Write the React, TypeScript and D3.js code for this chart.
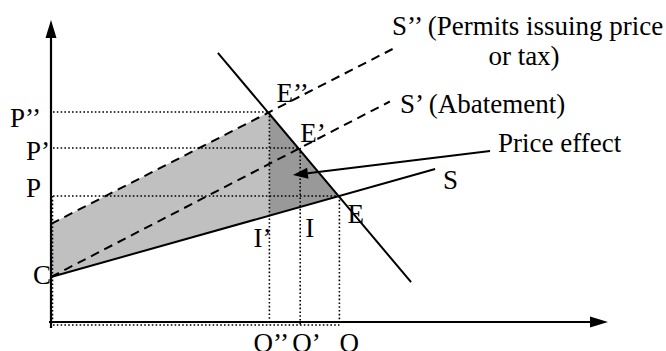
import React from "react";
import * as d3 from "d3";

// ---- data (quantity on x, price on y; arbitrary units) ----
const qLabels = ["Q’’", "Q’", "Q"];
const qValues = [39, 44.5, 51.5];
const pLabels = ["P’’", "P’", "P"];
const pValues = [70, 58, 42];
const cValue = 15;
const sTaxIntercept = 32.7;
const demandLine: [number, number][] = [[29.8, 89.7], [64.3, 13.3]];
const sLine: [number, number][] = [[0, 15], [68.6, 51]];
const sAbateLine: [number, number][] = [[0, 15], [60.5, 73.5]];
const sTaxLine: [number, number][] = [[0, 32.7], [61, 91]];
const priceEffectArrow: [number, number][] = [[78.4, 57], [43.2, 49]];

const W = 666, H = 351;
const FONT = "Liberation Serif, Times New Roman, serif";

export default function App() {
  const x = d3.scaleLinear().domain([0, 100]).range([51, 611]);
  const y = d3.scaleLinear().domain([0, 100]).range([322, 22]);
  const line = d3.line<[number, number]>().x(d => x(d[0])).y(d => y(d[1]));

  const sAt = (q: number) => {
    const [a, b] = sLine;
    return a[1] + (b[1] - a[1]) * (q - a[0]) / (b[0] - a[0]);
  };
  const [qE2, qE1, qE] = qValues;
  const [pE2, pE1, pE] = pValues;
  const iPrime = sAt(qE2);

  const lightPoly: [number, number][] = [[0, cValue], [0, sTaxIntercept], [qE2, pE2], [qE2, iPrime]];
  const darkPoly: [number, number][] = [[qE2, pE2], [qE, pE], [qE2, iPrime]];

  const x0 = x(0), y0 = y(0);
  const dot = { stroke: "#000", strokeWidth: 1.6, strokeDasharray: "1.6 2.2", fill: "none" };
  const dash = { stroke: "#000", strokeWidth: 2, strokeDasharray: "9 6", fill: "none" };
  const solid = { stroke: "#000", strokeWidth: 2, fill: "none" };

  // arrow geometry
  const ax1 = x(priceEffectArrow[0][0]), ay1 = y(priceEffectArrow[0][1]);
  const ax2 = x(priceEffectArrow[1][0]), ay2 = y(priceEffectArrow[1][1]);
  const ang = Math.atan2(ay2 - ay1, ax2 - ax1);
  const hl = 15, hw = 5.5;
  const bx = ax2 - hl * Math.cos(ang), by = ay2 - hl * Math.sin(ang);
  const head = `M${ax2},${ay2} L${bx + hw * Math.sin(ang)},${by - hw * Math.cos(ang)} L${bx - hw * Math.sin(ang)},${by + hw * Math.cos(ang)} Z`;

  const txt = { fontFamily: FONT, fontSize: 27, fill: "#000" };

  return (
    <svg width={W} height={H} style={{ position: "absolute", left: 0, top: 0, background: "#fff" }}>
      {/* shaded areas */}
      <path d={line(lightPoly) + "Z"} fill="#c0c0c0" />
      <path d={line(darkPoly) + "Z"} fill="#999999" />

      {/* dotted guides */}
      {pValues.map((p, i) => (
        <line key={"h" + i} x1={x0 + 2} x2={x(qValues[i])} y1={y(p)} y2={y(p)} style={dot} />
      ))}
      {qValues.map((q, i) => (
        <line key={"v" + i} x1={x(q)} x2={x(q)} y1={y(pValues[i])} y2={y0 + 3} style={dot} />
      ))}
      <line x1={x0 + 2} x2={x(qE)} y1={y0 + 3} y2={y0 + 3} style={dot} />
      <line x1={x0 + 1.5} x2={x0 + 1.5} y1={y(pE)} y2={y0 + 3} style={dot} />

      {/* curves */}
      <path d={line(sTaxLine)!} style={dash} />
      <path d={line(sAbateLine)!} style={dash} />
      <path d={line(sLine)!} style={solid} />
      <path d={line(demandLine)!} style={solid} />

      {/* axes */}
      <line x1={x0} x2={x0} y1={y0 + 6} y2={32} stroke="#000" strokeWidth={2.2} />
      <path d={`M${x0},20 L${x0 - 5.5},38 L${x0 + 5.5},38 Z`} fill="#000" />
      <line x1={x0 - 2} x2={596} y1={y0} y2={y0} stroke="#000" strokeWidth={2.2} />
      <path d={`M608,${y0} L590,${y0 - 5.5} L590,${y0 + 5.5} Z`} fill="#000" />

      {/* price effect arrow */}
      <line x1={ax1} y1={ay1} x2={bx} y2={by} stroke="#000" strokeWidth={2} />
      <path d={head} fill="#000" />

      {/* axis labels */}
      <text x={10} y={y(pE2) + 14.5} style={txt}>{pLabels[0]}</text>
      <text x={26} y={y(pE1) + 12} style={txt}>{pLabels[1]}</text>
      <text x={26} y={y(pE) + 1} style={txt}>{pLabels[2]}</text>
      <text x={33} y={y(cValue) + 6.5} style={txt}>C</text>
      <text x={x(qE2) - 16} y={352} style={txt}>{qLabels[0]}</text>
      <text x={x(qE1) - 8} y={352} style={txt}>{qLabels[1]}</text>
      <text x={x(qE)} y={352} style={txt}>{qLabels[2]}</text>

      {/* point labels */}
      <text x={x(qE2) + 7} y={y(pE2) - 10} style={txt}>E’’</text>
      <text x={x(qE1)} y={y(pE1) - 6} style={txt}>E’</text>
      <text x={x(qE) + 8} y={y(pE) + 27} style={txt}>E</text>
      <text x={x(qE2) - 16} y={247} style={txt}>I’</text>
      <text x={x(qE1) + 5} y={237} style={txt}>I</text>

      {/* curve labels */}
      <text x={392} y={35} style={txt}>S’’ (Permits issuing price</text>
      <text x={524} y={65} textAnchor="middle" style={txt}>or tax)</text>
      <text x={400} y={113} style={txt}>S’ (Abatement)</text>
      <text x={498} y={152} style={txt}>Price effect</text>
      <text x={443} y={189} style={txt}>S</text>
    </svg>
  );
}
